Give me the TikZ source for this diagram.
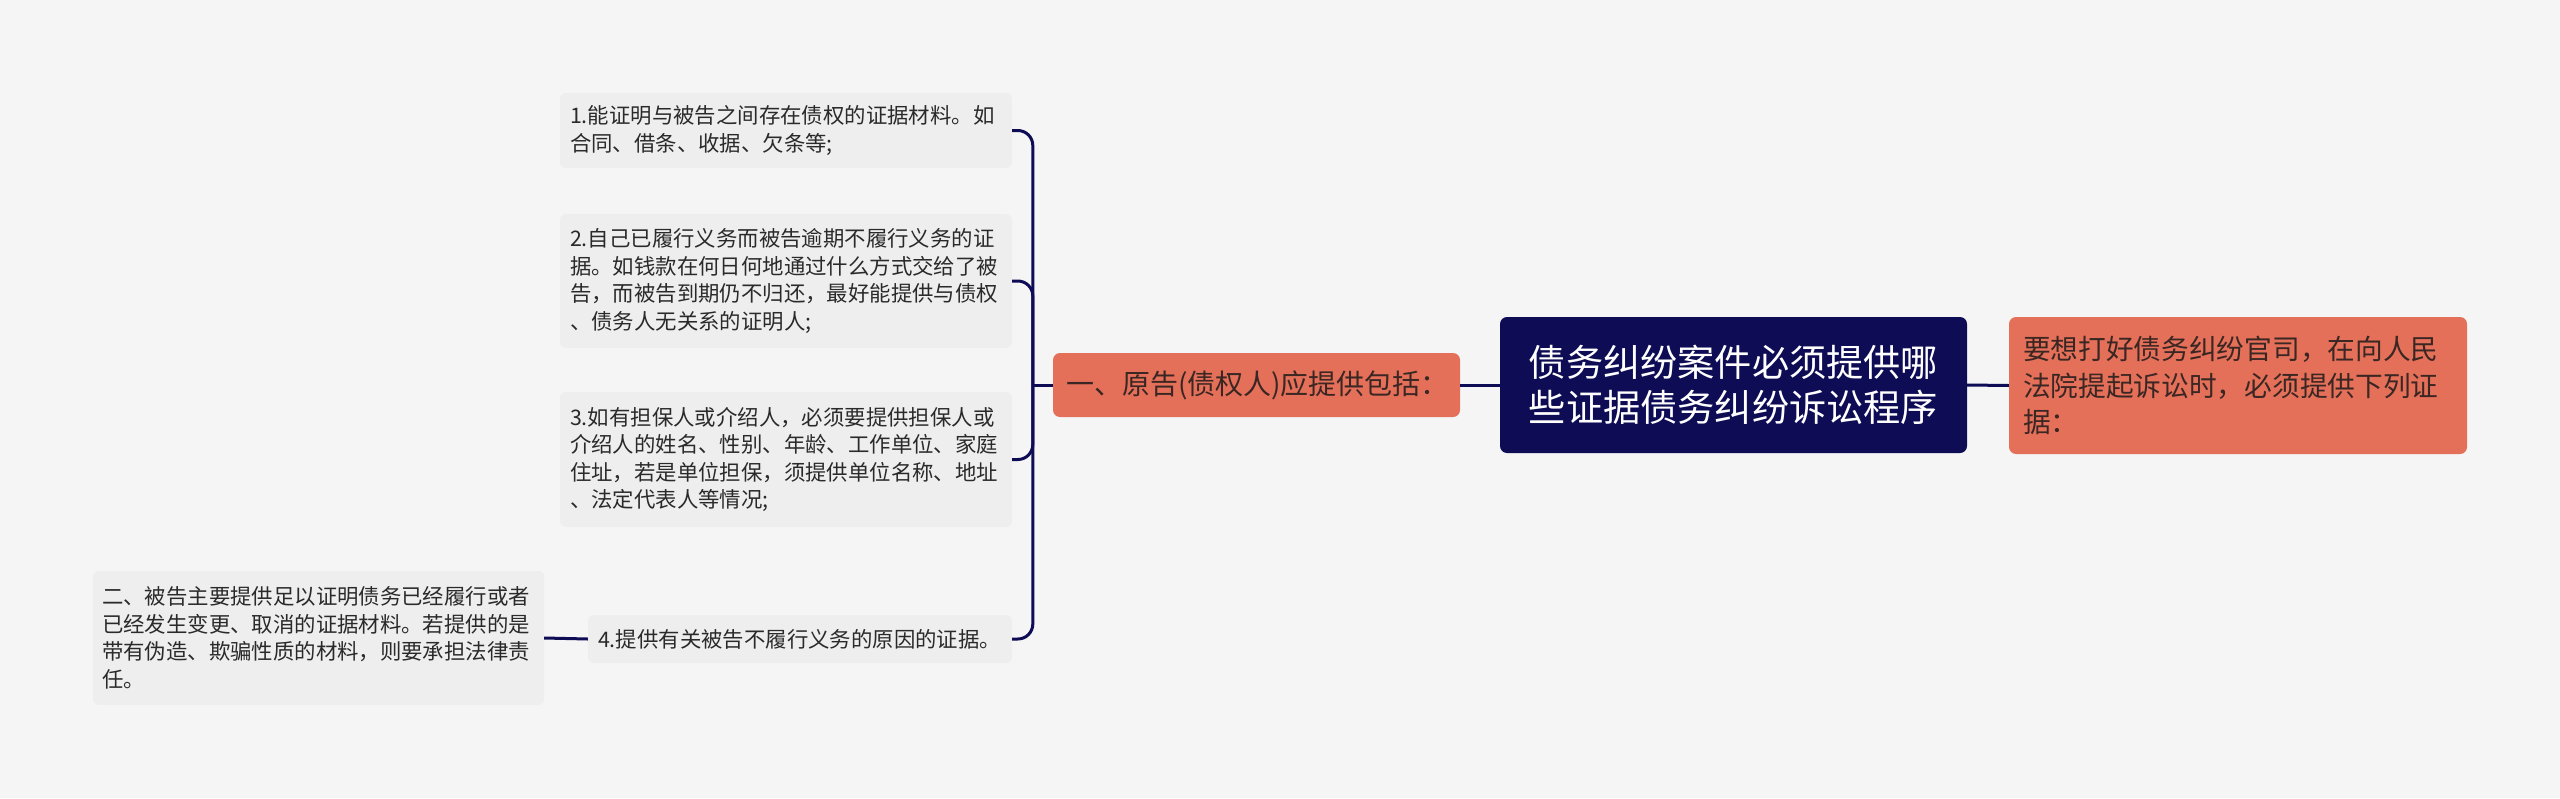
\documentclass[tikz,border=0pt]{standalone}
\usepackage{fontspec}
\newfontfamily\cjk{Noto Sans CJK SC}
\definecolor{navy}{HTML}{0D0C54}
\definecolor{orng}{HTML}{E4705A}
\definecolor{leaffill}{HTML}{EEEEEE}
\definecolor{bgc}{HTML}{F5F5F5}
\definecolor{leaftext}{HTML}{2A2A2A}
\definecolor{orngtext}{HTML}{3A2622}
\tikzset{
  leafbox/.style={fill=leaffill, rounded corners=6pt, inner xsep=11pt, inner ysep=0pt,
    align=left, text=leaftext, font=\cjk\fontsize{21.4}{27.5}\selectfont},
  orangebox/.style={fill=orng, rounded corners=7pt, inner ysep=0pt, align=left,
    text=orngtext},
  rootbox/.style={fill=navy, rounded corners=7pt, inner ysep=0pt, align=center,
    text=white, font=\cjk\fontsize{37.2}{45}\selectfont},
  link/.style={draw=navy, line width=3pt},
}
\begin{document}
\begin{tikzpicture}[x=1pt,y=-1pt]
\useasboundingbox (0,0) rectangle (2560,798);
\fill[bgc] (0,0) rectangle (2560,798);

\node[rootbox, minimum width=467pt, minimum height=136pt] (root) at (1733.5,385)
  {债务纠纷案件必须提供哪\\些证据债务纠纷诉讼程序};

\node[orangebox, minimum width=458pt, minimum height=137pt, text width=430pt, inner xsep=14pt,
  font=\cjk\fontsize{27.7}{36.5}\selectfont] (right) at (2238,385.5)
  {要想打好债务纠纷官司，在向人民\\法院提起诉讼时，必须提供下列证\\据：};

\node[orangebox, minimum width=407pt, minimum height=64pt, text width=381pt, inner xsep=13pt,
  font=\cjk\fontsize{28}{32}\selectfont] (one) at (1256.5,385)
  {一、原告(债权人)应提供包括：};

\node[leafbox, minimum width=452pt, minimum height=75pt, text width=432pt, inner xsep=10pt] (c1) at (786,130.5)
  {1.能证明与被告之间存在债权的证据材料。如\\合同、借条、收据、欠条等;};
\node[leafbox, minimum width=452pt, minimum height=134pt, text width=432pt, inner xsep=10pt] (c2) at (786,281)
  {2.自己已履行义务而被告逾期不履行义务的证\\据。如钱款在何日何地通过什么方式交给了被\\告，而被告到期仍不归还，最好能提供与债权\\、债务人无关系的证明人;};
\node[leafbox, minimum width=452pt, minimum height=135pt, text width=432pt, inner xsep=10pt] (c3) at (786,459.5)
  {3.如有担保人或介绍人，必须要提供担保人或\\介绍人的姓名、性别、年龄、工作单位、家庭\\住址，若是单位担保，须提供单位名称、地址\\、法定代表人等情况;};
\node[leafbox, minimum width=424pt, minimum height=48pt, text width=404pt, inner xsep=10pt] (c4) at (800,639)
  {4.提供有关被告不履行义务的原因的证据。};
\node[leafbox, minimum width=451pt, minimum height=134pt, text width=433pt, inner xsep=9pt] (d) at (318.5,638)
  {二、被告主要提供足以证明债务已经履行或者\\已经发生变更、取消的证据材料。若提供的是\\带有伪造、欺骗性质的材料，则要承担法律责\\任。};

\draw[link] (root.west) -- (one.east);
\draw[link] (root.east) -- (right.west);
\draw[link] (one.west) -- ++(-20,0) coordinate (j);
\foreach \c in {c1,c2,c3,c4}
  \draw[link, rounded corners=15pt] (j) |- (\c.east);
\draw[link] (c4.west) -- (d.east);
\end{tikzpicture}
\end{document}
